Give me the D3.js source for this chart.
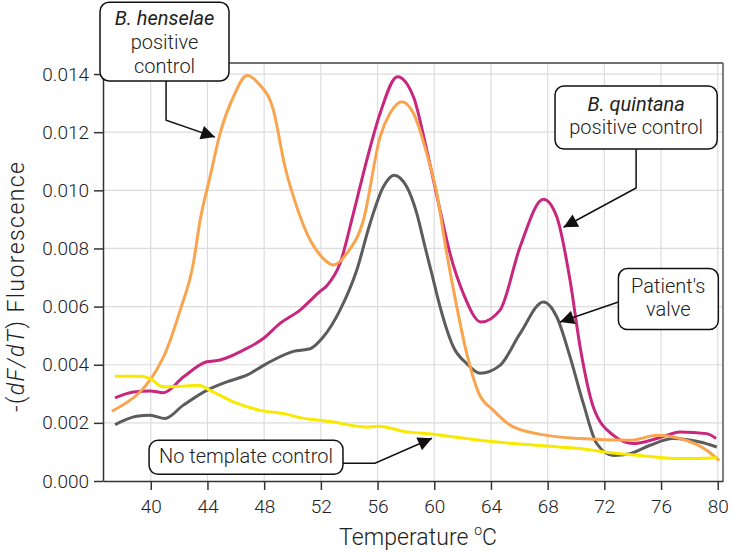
<!DOCTYPE html>
<html><head><meta charset="utf-8">
<script src="https://cdn.jsdelivr.net/npm/d3@7"></script>
<style>
body{margin:0;background:#fff;}
text{font-family:Roboto,"Liberation Sans",sans-serif;font-weight:300;fill:#222;}
</style></head>
<body><svg id="c" width="733" height="553"></svg>
<script>
// ---- data ----
const xTicks = [40,44,48,52,56,60,64,68,72,76,80];
const yTicks = [0,0.002,0.004,0.006,0.008,0.010,0.012,0.014];
const henselaeT = [37.25,40.9,42.07,43.0,43.48,44.18,44.89,45.83,46.8,47.59,48.65,49.47,50.3,51.24,52.06,52.88,53.83,55.0,56.18,56.88,57.71,58.53,59.47,60.18,60.88,61.59,62.29,63.11,64.17,65.58,67.94,70.29,73.81,75.7,77.34,79.22,80.1];
const henselaeV = [0.0024,0.00427,0.00587,0.00748,0.00897,0.01046,0.01196,0.01322,0.01395,0.01368,0.01276,0.01081,0.00943,0.00829,0.00771,0.00743,0.00783,0.00897,0.01184,0.01265,0.01305,0.01265,0.01127,0.00989,0.00783,0.00599,0.00439,0.00305,0.00243,0.00186,0.00157,0.00146,0.0014,0.00157,0.00146,0.00106,0.00071];
const quintanaT = [37.48,38.77,39.95,40.89,42.3,43.95,44.89,46.53,47.94,49.12,50.53,51.94,52.42,53.35,54.29,55.24,56.18,57.4,58.53,59.47,60.41,61.11,62.05,63.3,64.64,66.05,67.7,68.64,69.58,70.29,71.22,72.64,74.05,75.7,77.34,79.22,79.88];
const quintanaV = [0.00286,0.00306,0.0031,0.00304,0.00358,0.0041,0.00416,0.0045,0.0049,0.00542,0.00588,0.00652,0.00672,0.00748,0.0092,0.01104,0.01265,0.01391,0.01322,0.01138,0.00931,0.00783,0.00645,0.00547,0.00588,0.00805,0.00969,0.00909,0.00691,0.00461,0.00255,0.00157,0.00129,0.00146,0.00169,0.00163,0.00146];
const patientT = [37.48,39.01,39.95,41.0,42.3,43.95,45.36,46.77,48.18,50.06,51.24,52.18,53.35,54.53,55.47,56.41,57.16,58.06,58.77,59.35,59.82,60.41,61.35,62.29,63.23,64.64,66.05,67.7,68.64,69.58,70.52,71.46,72.64,73.81,75.22,76.86,78.75,79.93];
const patientV = [0.00194,0.00223,0.00226,0.00215,0.00261,0.00312,0.00341,0.00364,0.00404,0.00446,0.00455,0.00496,0.00588,0.00725,0.00886,0.01012,0.01052,0.01012,0.0092,0.00805,0.00714,0.00599,0.00461,0.00404,0.00371,0.00398,0.00507,0.00616,0.00565,0.00427,0.00266,0.00129,0.00088,0.00094,0.00123,0.00146,0.00134,0.00117];
const ntcT = [37.48,39.25,39.95,40.89,42.3,43.36,44.18,45.83,47.71,49.59,50.53,51.94,52.88,55.12,56.06,58.06,59.94,62.29,64.64,65.58,67.94,70.29,72.64,75.0,77.34,79.93];
const ntcV = [0.0036,0.0036,0.00352,0.00324,0.00326,0.00329,0.00312,0.00272,0.00243,0.0023,0.00218,0.00209,0.00203,0.00186,0.00188,0.00169,0.00161,0.00146,0.00133,0.00129,0.0012,0.00112,0.00096,0.00085,0.00077,0.0008];

const W=733,H=553, m={l:103,t:63,r:10,b:72};
const svg=d3.select("#c");
const x=d3.scaleLinear().domain([36.63,80.37]).range([m.l,W-m.r]);
const y=d3.scaleLinear().domain([0,0.01438]).range([H-m.b,m.t]);

// grid
const g=svg.append("g");
g.selectAll(".vg").data(xTicks).join("line").attr("x1",d=>x(d)).attr("x2",d=>x(d)).attr("y1",y(0)).attr("y2",m.t).attr("stroke","#dcdcdc").attr("stroke-width",1.2);
g.selectAll(".hg").data(yTicks.slice(1)).join("line").attr("y1",d=>y(d)).attr("y2",d=>y(d)).attr("x1",m.l).attr("x2",W-m.r).attr("stroke","#dcdcdc").attr("stroke-width",1.2);

// frame top/right
svg.append("line").attr("x1",m.l).attr("x2",W-m.r).attr("y1",m.t).attr("y2",m.t).attr("stroke","#444").attr("stroke-width",1.5);
svg.append("line").attr("x1",W-m.r).attr("x2",W-m.r).attr("y1",m.t).attr("y2",y(0)).attr("stroke","#555").attr("stroke-width",1.5);

// axes
const xa=svg.append("g").attr("transform",`translate(0,${y(0)})`).call(d3.axisBottom(x).tickValues(xTicks).tickSize(9).tickSizeOuter(0).tickPadding(6));
const ya=svg.append("g").attr("transform",`translate(${m.l},0)`).call(d3.axisLeft(y).tickValues(yTicks).tickFormat(d3.format(".3f")).tickSize(9).tickSizeOuter(0).tickPadding(5));
[xa,ya].forEach(a=>{a.select(".domain").attr("stroke","#333").attr("stroke-width",1.5);a.selectAll(".tick line").attr("stroke","#333").attr("stroke-width",1.5);a.selectAll("text").style("font-size","19px").attr("fill","#222");});
xa.selectAll("text").attr("dy","0.9em");

// lines
const line=d3.line().x(d=>x(d[0])).y(d=>y(d[1])).curve(d3.curveMonotoneX);
const series=[
 {T:ntcT,V:ntcV,c:"#f7ea00"},
 {T:henselaeT,V:henselaeV,c:"#f9a54f"},
 {T:patientT,V:patientV,c:"#5c5c5c"},
 {T:quintanaT,V:quintanaV,c:"#c9267d"},
];
const order=[series[3],series[2],series[1],series[0]];
svg.append("g").selectAll("path").data(order).join("path")
 .attr("d",s=>line(s.T.map((t,i)=>[t,s.V[i]]))).attr("fill","none").attr("stroke",s=>s.c).attr("stroke-width",3).attr("stroke-linejoin","round");

// axis titles
svg.append("text").attr("x",418).attr("y",545).attr("text-anchor","middle").style("font-size","23px")
 .attr("textLength",158).attr("lengthAdjust","spacing")
 .html('Temperature <tspan dy="-10" style="font-size:14px">o</tspan><tspan dy="10">C</tspan>');
svg.append("text").attr("transform","translate(24,287) rotate(-90)").attr("text-anchor","middle").style("font-size","23px")
 .attr("textLength",250).attr("lengthAdjust","spacing")
 .html('-(<tspan font-style="italic">dF/dT</tspan>) Fluorescence');

// annotations (data coordinates)
const defs=svg.append("defs");
defs.append("marker").attr("id","ah").attr("viewBox","0 0 10 10").attr("refX",10).attr("refY",5).attr("markerWidth",16).attr("markerHeight",14).attr("markerUnits","userSpaceOnUse").attr("orient","auto")
 .append("path").attr("d","M0,0L10,5L0,10Z").attr("fill","#111");
const boxes=[
 {x0:36.42,x1:45.52,y0:0.01647,y1:0.01376,cx:40.97,lines:[["B. henselae",0.01568,true],["positive",0.01485,false],["control",0.01405,false]],
  arrow:[[41.08,0.01376],[41.08,0.01241],[44.53,0.01183]]},
 {x0:68.52,x1:79.96,y0:0.01359,y1:0.01142,cx:74.24,lines:[["B. quintana",0.012744,true],["positive control",0.011935,false]],
  arrow:[[74.24,0.01142],[74.24,0.01008],[69.12,0.00873]]},
 {x0:72.99,x1:80.04,y0:0.00731,y1:0.00521,cx:76.51,lines:[["Patient's",0.00648,false],["valve",0.00568,false]],
  arrow:[[72.99,0.00616],[68.87,0.00547]]},
 {x0:39.88,x1:53.56,y0:0.0014,y1:0.00023,cx:46.72,lines:[["No template control",0.00061,false]],
  arrow:[[53.56,0.00061],[55.82,0.00061],[59.84,0.00147]]},
];
const al=d3.line().x(d=>x(d[0])).y(d=>y(d[1]));
const ag=svg.append("g");
boxes.forEach(b=>{
 ag.append("path").attr("d",al(b.arrow)).attr("fill","none").attr("stroke","#111").attr("stroke-width",1.5).attr("marker-end","url(#ah)");
 ag.append("rect").attr("x",x(b.x0)).attr("y",y(b.y0)).attr("width",x(b.x1)-x(b.x0)).attr("height",y(b.y1)-y(b.y0)).attr("rx",9).attr("fill","#fff").attr("stroke","#111").attr("stroke-width",1.5);
 b.lines.forEach(l=>{
  ag.append("text").attr("x",x(b.cx)).attr("y",y(l[1])).attr("text-anchor","middle").style("font-size","20px")
   .style("font-style",l[2]?"italic":"normal").style("font-weight",l[2]?"400":"300").text(l[0]);
 });
});
</script></body></html>
